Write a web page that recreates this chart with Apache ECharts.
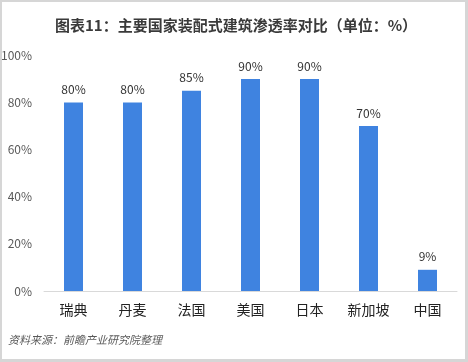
<!DOCTYPE html>
<html><head><meta charset="utf-8">
<script src="https://cdn.jsdelivr.net/npm/echarts@6/dist/echarts.min.js"></script>
<style>
html,body{margin:0;padding:0;background:#d6d6d6;width:468px;height:362px;overflow:hidden;}
#c{position:absolute;left:2px;top:2px;width:463px;height:357px;background:#fff;}
</style></head>
<body><div id="c"></div>
<script>
var categories = ['瑞典','丹麦','法国','美国','日本','新加坡','中国'];
var values = [80, 80, 85, 90, 90, 70, 9];
var yTicks = [0, 20, 40, 60, 80, 100];
var titleText = '图表11：主要国家装配式建筑渗透率对比（单位：%）';
var sourceText = '资料来源：前瞻产业研究院整理';

var chart = echarts.init(document.getElementById('c'), null, {renderer:'canvas'});
chart.setOption({
  animation:false,
  title:{text:titleText,left:229,top:11,textAlign:'center',
    textStyle:{fontSize:15,fontWeight:'bold',color:'#3a3a3a',fontFamily:'Noto Sans CJK SC'}},
  graphic:[{type:'text',left:6,top:332,style:{text:sourceText,fontSize:11,fontStyle:'italic',fill:'#595959',fontFamily:'Noto Sans CJK SC'}}],
  grid:{left:42,right:8,top:53.4,bottom:68,containLabel:false,outerBoundsMode:'none'},
  xAxis:{type:'category',data:categories,
    axisLine:{lineStyle:{color:'#d9d9d9',width:1}},axisTick:{show:false},
    axisLabel:{fontSize:14,color:'#222',margin:12,fontFamily:'Noto Sans CJK SC'}},
  yAxis:{type:'value',min:yTicks[0],max:yTicks[yTicks.length-1],interval:20,
    splitLine:{show:false},axisLine:{show:false},axisTick:{show:false},
    axisLabel:{fontSize:12,color:'#595959',margin:12,formatter:'{value}%',fontFamily:'Noto Sans CJK SC'}},
  series:[{type:'bar',data:values,barWidth:19,itemStyle:{color:'#3f83e0'},
    label:{show:true,position:'top',distance:7,formatter:'{c}%',fontSize:12,color:'#333',fontFamily:'Noto Sans CJK SC'}}]
});
</script></body></html>
